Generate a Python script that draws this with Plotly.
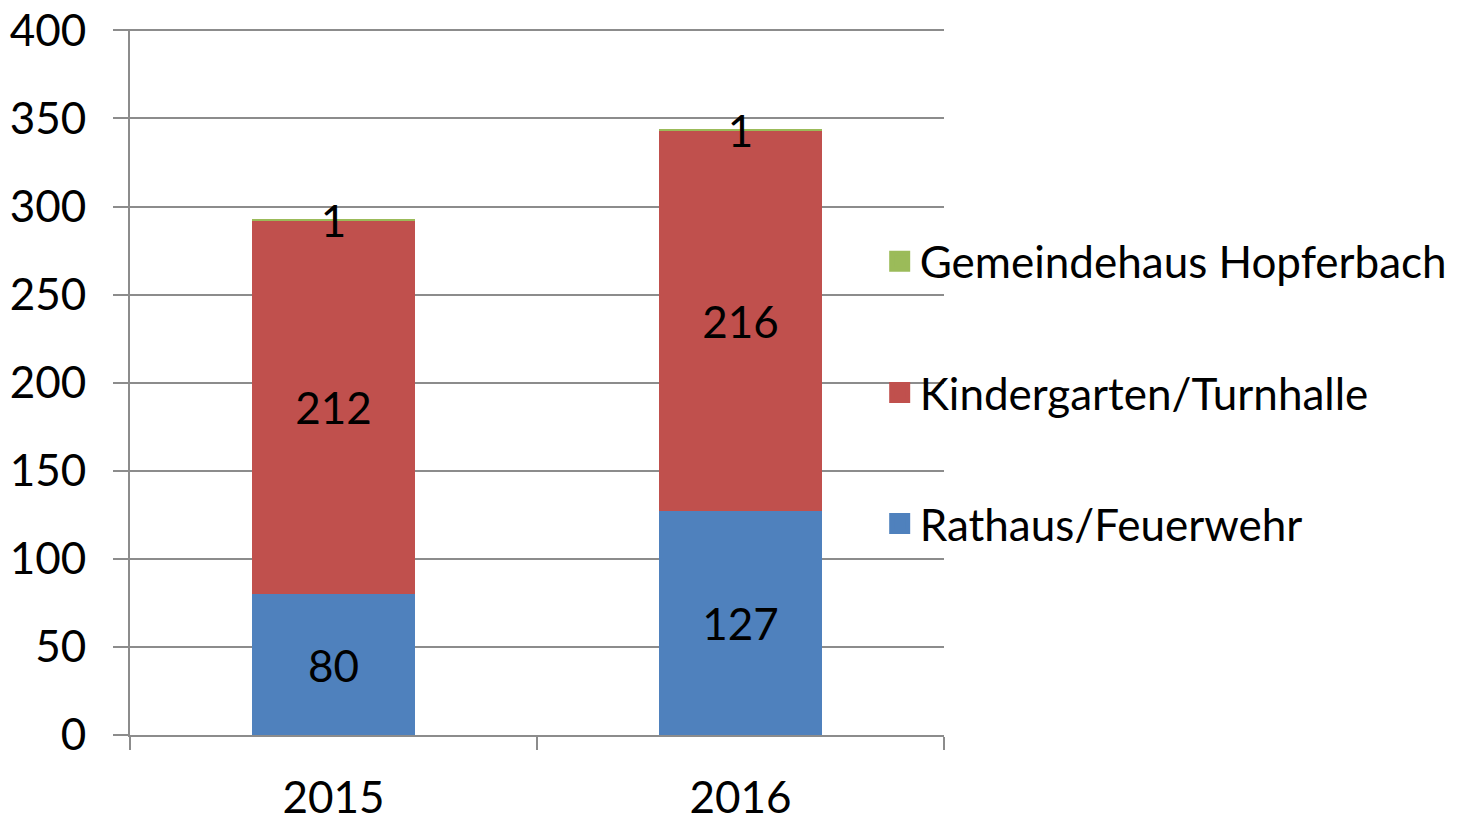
import plotly.graph_objects as go

years = ["2015", "2016"]
rathaus = [80, 127]
kindergarten = [212, 216]
gemeindehaus = [1, 1]
series_names = ["Rathaus/Feuerwehr", "Kindergarten/Turnhalle", "Gemeindehaus Hopferbach"]
series_values = [rathaus, kindergarten, gemeindehaus]
colors = ["#4F81BD", "#C0504D", "#9BBB59"]
y_ticks = [0, 50, 100, 150, 200, 250, 300, 350, 400]

FONT = "Lato, Calibri, Open Sans, sans-serif"
GRID = "#8c8c8c"

fig = go.Figure()
for name, vals, col in zip(series_names, series_values, colors):
    fig.add_trace(go.Bar(x=years, y=vals, name=name, marker_color=col,
                         marker_line_width=0, showlegend=False,
                         text=[str(v) for v in vals], texttemplate="%{text}",
                         textposition="inside", insidetextanchor="middle",
                         constraintext="none", textangle=0,
                         insidetextfont=dict(family=FONT, size=44, color="black"),
                         hoverinfo="skip"))

# legend entries (top to bottom: last series first)
n = len(series_names)
for i, (name, col) in enumerate(zip(series_names, colors)):
    fig.add_trace(go.Scatter(x=[None], y=[None], name=name, mode="markers",
                             marker=dict(symbol="square", size=25, color=col,
                                         line=dict(color=col, width=6)),
                             legendgroup=name, legendrank=n - i, showlegend=True))

fig.update_layout(
    width=1461, height=809,
    margin=dict(l=122, r=525, t=21, b=82, autoexpand=False),
    barmode="stack", bargap=0.6,
    plot_bgcolor="white", paper_bgcolor="white",
    font=dict(family=FONT, size=44, color="black"),
    legend=dict(x=0.921, xanchor="left", y=0.485, yanchor="middle",
                traceorder="grouped", tracegroupgap=71,
                font=dict(family=FONT, size=44, color="black"),
                bgcolor="rgba(0,0,0,0)"),
    xaxis=dict(type="category", tickson="boundaries", ticks="outside", ticklen=13,
               tickcolor=GRID, tickwidth=2, showline=True, linecolor=GRID, linewidth=2,
               showgrid=False, ticklabelstandoff=23, ticklabeloverflow="allow",
               tickfont=dict(family=FONT, size=44, color="black")),
    yaxis=dict(range=[0, 400.8], tickvals=y_ticks, ticks="outside", ticklen=15,
               tickcolor=GRID, tickwidth=2, showline=True, linecolor=GRID, linewidth=2,
               showgrid=True, gridcolor=GRID, gridwidth=2, zeroline=False,
               ticklabelstandoff=18, ticklabeloverflow="allow",
               tickfont=dict(family=FONT, size=44, color="black")),
)

fig.write_html("out.html")
